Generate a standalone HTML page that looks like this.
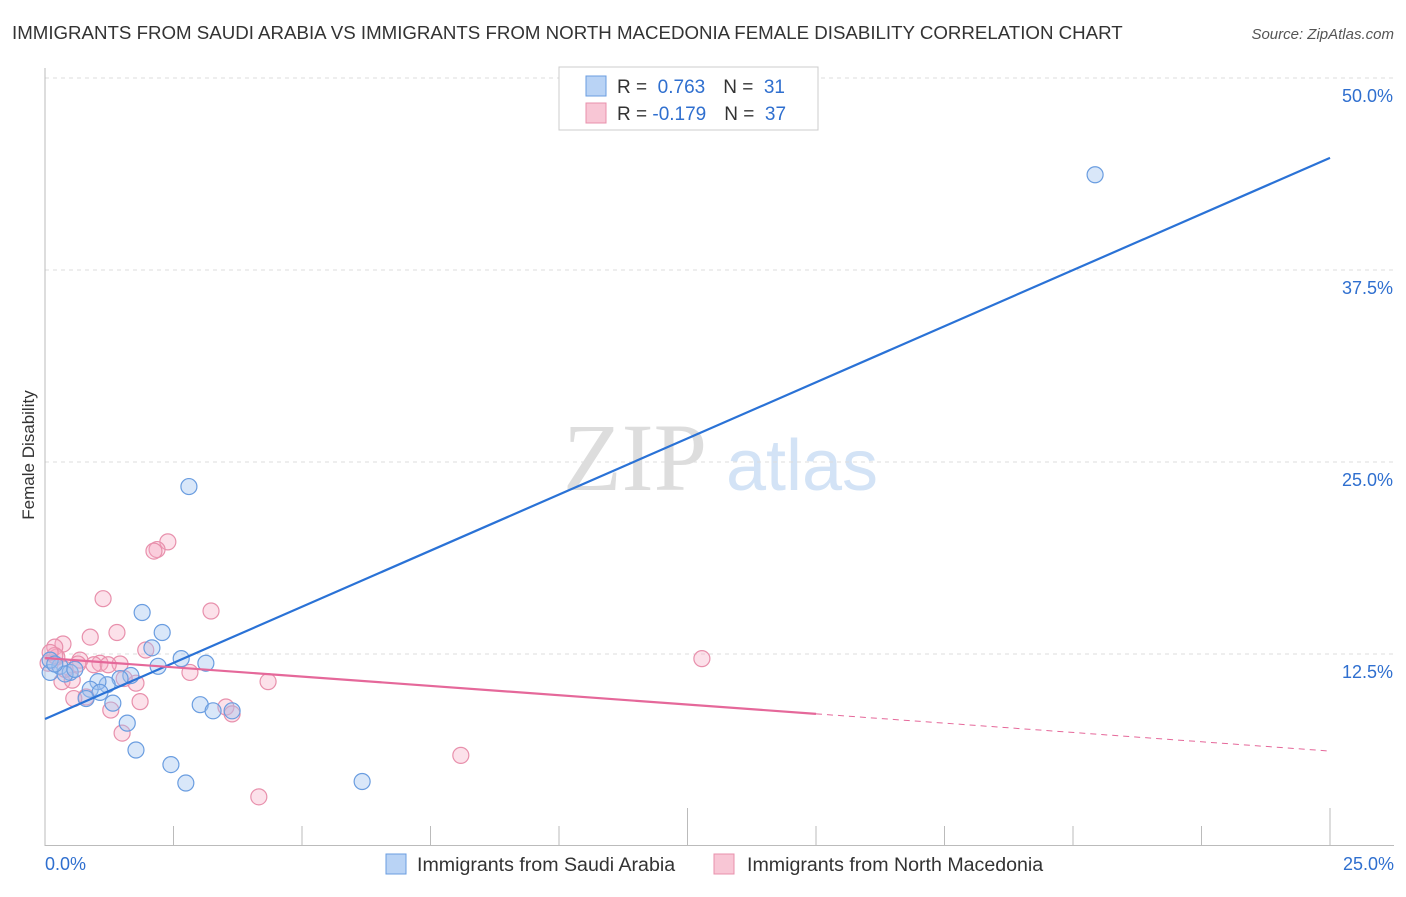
<!DOCTYPE html>
<html><head><meta charset="utf-8"><style>
body{margin:0;background:#fff;font-family:"Liberation Sans",sans-serif;}
</style></head><body>
<svg id="chart" width="1406" height="892" xmlns="http://www.w3.org/2000/svg" font-family="Liberation Sans, sans-serif">
<text x="12" y="39" font-size="18.7" fill="#333">IMMIGRANTS FROM SAUDI ARABIA VS IMMIGRANTS FROM NORTH MACEDONIA FEMALE DISABILITY CORRELATION CHART</text>
<text x="1394" y="39" font-size="15" fill="#555" text-anchor="end" font-style="italic">Source: ZipAtlas.com</text>
<text x="635" y="490" font-size="96" fill="#ddd" text-anchor="middle" font-family="Liberation Serif, serif">ZIP</text>
<text x="802" y="490" font-size="72" fill="#d3e3f6" text-anchor="middle">atlas</text>
<text transform="translate(34,455) rotate(-90)" font-size="17" fill="#333" text-anchor="middle">Female Disability</text>
<g id="grid"></g><g id="axes"></g><g id="pts"></g><g id="lines"></g>
<g>
<rect x="559" y="67" width="259" height="63" fill="#fff" stroke="#ccc"/>
<rect x="586" y="76" width="20" height="20" fill="#b9d3f5" stroke="#6a9de0"/>
<rect x="586" y="103" width="20" height="20" fill="#f8c6d5" stroke="#e890ac"/>
<text x="617" y="93" font-size="19" fill="#333">R = <tspan fill="#2f6fcf">&#160;0.763</tspan><tspan dx="18">N = </tspan><tspan fill="#2f6fcf">&#160;31</tspan></text>
<text x="617" y="120" font-size="19" fill="#333">R = <tspan fill="#2f6fcf">-0.179</tspan><tspan dx="18">N = </tspan><tspan fill="#2f6fcf">&#160;37</tspan></text>
</g>
<g>
<rect x="386" y="854" width="20" height="20" fill="#b9d3f5" stroke="#6a9de0"/>
<text x="417" y="871" font-size="19.6" fill="#333">Immigrants from Saudi Arabia</text>
<rect x="714" y="854" width="20" height="20" fill="#f8c6d5" stroke="#e890ac"/>
<text x="747" y="871" font-size="19.6" fill="#333">Immigrants from North Macedonia</text>
</g>
</svg>
<script>
const blueX=[20.43,2.80,1.89,2.28,2.08,2.65,3.13,2.20,1.67,1.46,1.21,1.03,0.88,1.07,0.80,1.32,3.02,3.27,3.64,1.60,1.77,2.45,2.74,6.17,0.10,0.29,0.49,0.10,0.39,0.58,0.19];
const blueY=[43.7,23.4,15.2,13.9,12.9,12.2,11.9,11.7,11.1,10.9,10.5,10.7,10.2,10.0,9.6,9.3,9.2,8.8,8.8,8.0,6.25,5.3,4.1,4.2,11.3,11.7,11.3,12.1,11.2,11.5,11.85];
const pinkX=[2.39,2.18,2.12,1.13,3.23,1.40,0.88,0.35,0.19,1.96,0.23,0.68,1.07,0.64,1.46,0.95,1.23,0.06,2.82,4.34,1.77,0.33,0.53,1.54,3.52,3.64,1.28,1.85,0.80,0.56,1.50,8.09,4.16,12.78,0.19,0.39,0.10];
const pinkY=[19.8,19.3,19.2,16.1,15.3,13.9,13.6,13.15,12.95,12.76,12.3,12.1,11.9,11.85,11.85,11.8,11.8,11.9,11.3,10.7,10.6,10.7,10.8,10.9,9.05,8.6,8.85,9.4,9.7,9.6,7.35,5.9,3.2,12.2,12.4,11.5,12.6];
const blueTrend=[8.27,44.8];
const pinkTrend=[12.24,6.18];
const pinkSolidEnd=15;
const yTicks=[12.5,25,37.5,50];
const yTickLabels=["12.5%","25.0%","37.5%","50.0%"];
const xTicks=[0,2.5,5,7.5,10,12.5,15,17.5,20,22.5,25];
const NS="http://www.w3.org/2000/svg";
const xs=v=>45+v*51.4, ys=v=>846-v*15.36;
function mk(p,t,a){const e=document.createElementNS(NS,t);for(const k in a)e.setAttribute(k,a[k]);document.getElementById(p).appendChild(e);return e;}
yTicks.forEach((t,i)=>{
 const g=mk('grid','line',{x1:45,x2:1394,y1:ys(t),y2:ys(t),stroke:'#ddd','stroke-dasharray':'4,4'});
 
 
 const l=mk('grid','text',{x:1393,y:ys(t)+24,'font-size':18,fill:'#2f6fcf','text-anchor':'end'});
 l.textContent=yTickLabels[i];
 
 
});
const ax=mk('axes','line',{x1:45,x2:45,y1:68,y2:846,stroke:'#bbb'});


const bx=mk('axes','line',{x1:45,x2:1394,y1:845.5,y2:845.5,stroke:'#bbb'});


xTicks.forEach((t,i)=>{
 const tk=mk('axes','line',{x1:xs(t),x2:xs(t),y1:(i%5==0&&i>0)?808:826,y2:846,stroke:'#bbb'});
 
 
});
[[0,'0.0%','start',45],[25,'25.0%','end',1394]].forEach(([v,s,a,x])=>{
 const l=mk('axes','text',{x:x,y:870,'font-size':18,fill:'#2f6fcf','text-anchor':a});
 l.textContent=s;
 
 
});
function pts(X,Y,fill,stroke,name){X.forEach((x,i)=>{
 const c=mk('pts','circle',{cx:xs(x),cy:ys(Y[i]),r:8,fill:fill,stroke:stroke,'stroke-width':1.2});
 
 
});}
pts(pinkX,pinkY,'rgba(245,170,195,0.35)','#e890ac','macedonia-point');
pts(blueX,blueY,'rgba(160,196,240,0.4)','#6a9de0','saudi-point');
const bl=mk('lines','line',{x1:xs(0),y1:ys(blueTrend[0]),x2:xs(25),y2:ys(blueTrend[1]),stroke:'#2a72d6','stroke-width':2.2});


const pm=pinkTrend[0]+(pinkTrend[1]-pinkTrend[0])*pinkSolidEnd/25;
const pl=mk('lines','line',{x1:xs(0),y1:ys(pinkTrend[0]),x2:xs(pinkSolidEnd),y2:ys(pm),stroke:'#e5689a','stroke-width':2.2});


const pd=mk('lines','line',{x1:xs(pinkSolidEnd),y1:ys(pm),x2:xs(25),y2:ys(pinkTrend[1]),stroke:'#e5689a','stroke-width':1,'stroke-dasharray':'6,5'});


</script>
</body></html>
